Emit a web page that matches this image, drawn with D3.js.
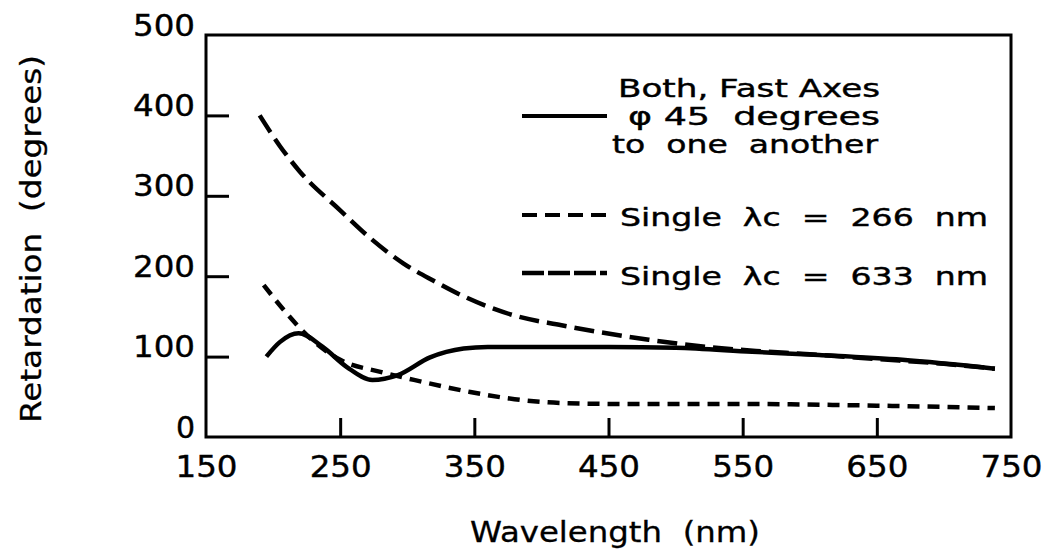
<!DOCTYPE html>
<html>
<head>
<meta charset="utf-8">
<script src="https://cdn.jsdelivr.net/npm/d3@7"></script>
<style>
  body { margin: 0; background: #fff; }
  text { font-family: "DejaVu Sans", sans-serif; fill: #000; white-space: pre; }
</style>
</head>
<body>
<div id="chart"></div>
<script>
// wavelength (nm) / retardation (degrees)
const wlBoth = [195, 205, 219, 237, 255, 274, 293, 317, 342, 360, 400, 450, 500, 557, 607, 669, 738];
const retBoth = [100, 118, 129, 112, 87, 71, 77, 99, 110, 112, 112, 112, 111, 106, 102, 96, 85];

const wl266 = [193, 210, 225, 250, 280, 305, 347, 380, 420, 470, 550, 650, 738];
const ret266 = [189, 154, 127, 96, 81, 71, 56, 47, 42, 41, 41, 39, 36];

const wl633 = [190, 205, 220, 250, 272, 297, 320, 342, 380, 415, 480, 530, 560, 600, 650, 700, 738];
const ret633 = [400, 362, 330, 282, 248, 216, 194, 175, 151, 139, 121, 111, 107, 103, 97, 91, 85];

const xTicks = [150, 250, 350, 450, 550, 650, 750];
const yTicks = [0, 100, 200, 300, 400, 500];

const width = 1056, height = 554;

const svg = d3.select("#chart").append("svg")
    .attr("width", width)
    .attr("height", height);

const x = d3.scaleLinear().domain([150, 750]).range([206, 1011]);
const y = d3.scaleLinear().domain([0, 500]).range([437, 35]);

// frame
svg.append("rect")
    .attr("x", x(150)).attr("y", y(500))
    .attr("width", x(750) - x(150)).attr("height", y(0) - y(500))
    .attr("fill", "none").attr("stroke", "#000").attr("stroke-width", 3);

const xAxis = svg.append("g")
    .attr("transform", "translate(0," + y(0) + ")")
    .call(d3.axisBottom(x).tickValues(xTicks).tickSize(-19).tickPadding(19).tickFormat(d3.format("d")));
const yAxis = svg.append("g")
    .attr("transform", "translate(" + x(150) + ",0)")
    .call(d3.axisLeft(y).tickValues(yTicks).tickSize(-23).tickPadding(11).tickFormat(d3.format("d")));

[xAxis, yAxis].forEach(function(g) {
    g.select(".domain").remove();
    g.selectAll(".tick line").attr("stroke", "#000").attr("stroke-width", 3);
    g.selectAll(".tick text")
        .style("font-family", "DejaVu Sans")
        .attr("font-size", 30)
        .attr("textLength", 62)
        .attr("lengthAdjust", "spacingAndGlyphs")
        .attr("stroke", "#000")
        .attr("stroke-width", 0.4)
        .attr("fill", "#000");
});
yAxis.selectAll(".tick text").attr("dy", "0em");
yAxis.selectAll(".tick").filter(function(d) { return d == 0; }).select("text").attr("textLength", null);
// end ticks sit on the frame, hide them
xAxis.selectAll(".tick").filter(function(d) { return d == 150 || d == 750; }).select("line").remove();
yAxis.selectAll(".tick").filter(function(d) { return d == 0 || d == 500; }).select("line").remove();

// axis titles
svg.append("text")
    .attr("x", 615).attr("y", 542)
    .attr("text-anchor", "middle")
    .attr("font-size", 29)
    .attr("textLength", 290)
    .attr("lengthAdjust", "spacingAndGlyphs")
    .attr("stroke", "#000").attr("stroke-width", 0.3)
    .text("Wavelength  (nm)");

svg.append("text")
    .attr("transform", "translate(41,239) rotate(-90)")
    .attr("text-anchor", "middle")
    .attr("font-size", 29)
    .attr("textLength", 368)
    .attr("lengthAdjust", "spacingAndGlyphs")
    .attr("stroke", "#000").attr("stroke-width", 0.3)
    .text("Retardation  (degrees)");

// curves
const series = [
    { wl: wlBoth, ret: retBoth, dash: null, w: 4.5 },
    { wl: wl266, ret: ret266, dash: "12,8", w: 4.5 },
    { wl: wl633, ret: ret633, dash: "20,8", w: 4.5 }
];

const line = d3.line()
    .x(function(d) { return x(d[0]); })
    .y(function(d) { return y(d[1]); })
    .curve(d3.curveMonotoneX);

series.forEach(function(s) {
    svg.append("path")
        .datum(d3.zip(s.wl, s.ret))
        .attr("d", line)
        .attr("fill", "none")
        .attr("stroke", "#000")
        .attr("stroke-width", s.w)
        .attr("stroke-dasharray", s.dash);
});

// legend
const legendLines = [
    { y: 116, dash: null, w: 4 },
    { y: 215, dash: "15,8", w: 4 },
    { y: 273, dash: "22,4", w: 4.5 }
];
legendLines.forEach(function(l) {
    svg.append("line")
        .attr("x1", 522).attr("x2", 607)
        .attr("y1", l.y).attr("y2", l.y)
        .attr("stroke", "#000")
        .attr("stroke-width", l.w)
        .attr("stroke-dasharray", l.dash);
});

const legendText = [
    { x: 618, y: 97, len: 262, t: "Both, Fast Axes" },
    { x: 628, y: 125, len: 252, t: "\u03C6 45  degrees" },
    { x: 612, y: 153, len: 266, t: "to  one  another" },
    { x: 620, y: 226, len: 368, t: "Single  \u03BBc  =  266  nm" },
    { x: 620, y: 285, len: 368, t: "Single  \u03BBc  =  633  nm" }
];
legendText.forEach(function(d) {
    svg.append("text")
        .attr("x", d.x).attr("y", d.y)
        .attr("font-size", 24)
        .attr("textLength", d.len)
        .attr("lengthAdjust", "spacingAndGlyphs")
        .attr("stroke", "#000").attr("stroke-width", 0.4)
        .text(d.t);
});
</script>
</body>
</html>
